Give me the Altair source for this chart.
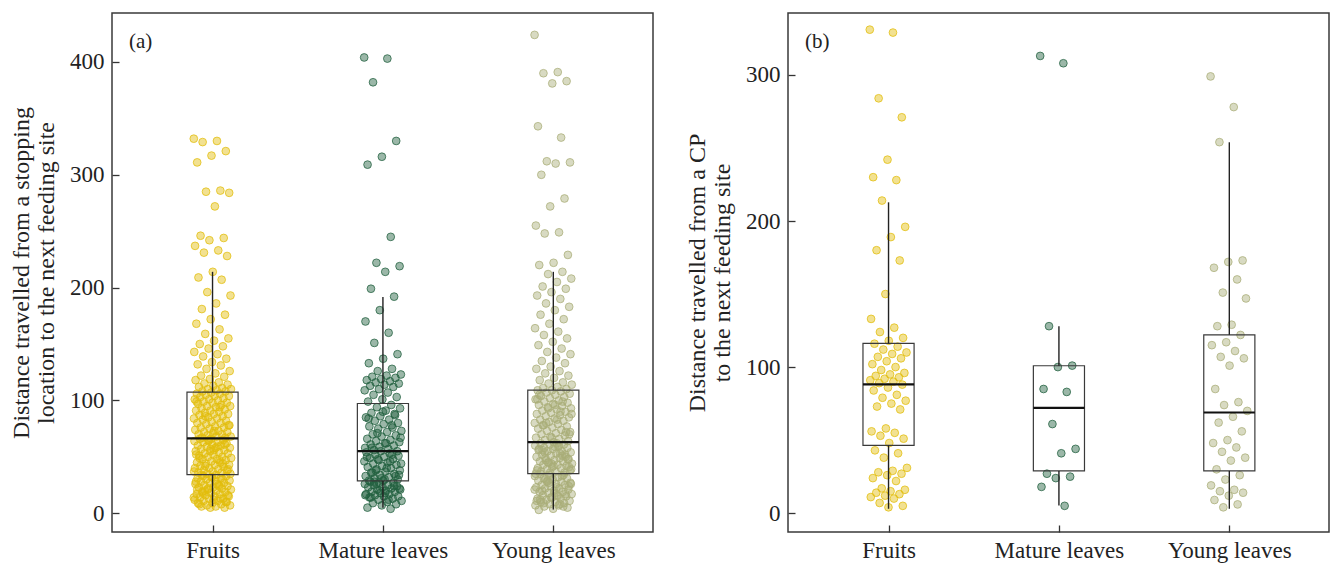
import altair as alt
import pandas as pd

FONT = "Liberation Serif"
CATS = ["Fruits", "Mature leaves", "Young leaves"]
COLORS = ["#e2bd0c", "#22603f", "#a9ae78"]

# ---------------- panel (a): distance from a stopping location ----------------
FRUITS_A = [
    332, 330, 329, 321, 317, 311, 286, 285, 284, 272, 246, 244, 242, 237, 233, 231, 228,
    214, 209, 207, 196, 193, 186, 181, 176, 172, 168, 163, 159, 155, 153, 150, 148, 146,
    143, 141, 139, 137, 134, 132, 131, 128, 126, 124, 122, 121, 119, 118, 116, 115, 114,
    113, 112, 111, 110, 110, 109, 108, 108, 107,
    106, 106, 105, 104, 104, 103, 102, 101, 101, 100, 99, 98, 98, 97, 96, 95, 95, 94, 93,
    92, 91, 91, 90, 89, 88, 88, 87, 86, 85, 84, 84, 83, 82, 81, 80, 80, 79, 78, 77, 76,
    76, 75, 74, 73, 72, 72, 71, 70, 70, 69, 68, 68, 67, 67, 66, 99, 94, 86, 78, 73,
    66, 65, 65, 64, 63, 63, 62, 61, 60, 60, 59, 58, 58, 57, 56, 55, 55, 54, 53, 53, 52,
    51, 50, 50, 49, 48, 48, 47, 46, 45, 45, 44, 43, 43, 42, 41, 40, 40, 39, 38, 38, 37,
    36, 36, 35, 35, 34, 34, 61, 57, 52, 47, 42, 39, 56, 49, 44, 64, 37, 59,
    33, 33, 32, 31, 31, 30, 29, 29, 28, 27, 27, 26, 25, 25, 24, 23, 23, 22, 21, 21, 20,
    19, 19, 18, 17, 17, 16, 15, 15, 14, 13, 13, 12, 11, 11, 10, 9, 9, 8, 7, 7, 6, 6, 5,
    5, 28, 24, 20, 16, 12, 8, 30, 22, 14, 26, 18, 10, 32, 21, 13,
]
MATURE_A = [
    404, 403, 382, 330, 316, 309, 245, 222, 219, 214, 199,
    192, 180, 170, 160, 151, 141, 137, 133, 128, 126, 123, 122, 121, 120, 119, 118, 117,
    116, 115, 114, 113, 112, 110, 109, 107, 105, 103, 101, 99,
    96, 94, 93, 91, 89, 88, 86, 85, 83, 82, 80, 79, 77, 76, 75, 73, 72, 70, 69, 68, 66,
    65, 64, 63, 62, 61, 60, 59, 58, 57, 56, 55, 90, 84, 78, 71, 67, 62, 58, 87,
    55, 54, 53, 52, 51, 50, 49, 48, 47, 46, 45, 44, 43, 42, 41, 40, 39, 38, 37, 36, 35,
    34, 33, 32, 31, 30, 29, 29, 52, 48, 44, 40, 36, 33, 31, 50, 46, 38, 34, 30,
    28, 27, 27, 26, 25, 25, 24, 23, 23, 22, 21, 21, 20, 19, 19, 18, 17, 17, 16, 15, 15,
    14, 13, 12, 11, 10, 9, 8, 7, 5, 4, 26, 22, 18, 14, 24, 20, 16, 12, 28,
]
YOUNG_A = [
    424, 391, 390, 383, 381, 343, 333, 312, 311, 310, 300, 279, 272, 255, 249, 248, 229,
    222, 220,
    214, 212, 208, 205, 201, 199, 196, 193, 190, 186, 183, 180, 176, 172, 168, 164, 161,
    158, 155, 152, 149, 146, 143, 141, 138, 135, 133, 130, 128, 126, 124, 122, 120, 118,
    116, 115, 114, 112, 111, 110, 109,
    109, 108, 107, 106, 105, 104, 103, 102, 101, 100, 99, 98, 97, 96, 95, 94, 93, 92, 91,
    90, 89, 88, 87, 86, 85, 84, 83, 82, 81, 80, 79, 78, 77, 76, 75, 74, 73, 72, 71, 70,
    69, 68, 67, 66, 65, 64, 63, 105, 99, 93, 88, 83, 78, 72, 67, 101, 90, 80, 70, 96,
    62, 61, 61, 60, 59, 58, 58, 57, 56, 55, 55, 54, 53, 52, 52, 51, 50, 49, 49, 48, 47,
    46, 46, 45, 44, 43, 43, 42, 41, 40, 40, 39, 38, 37, 37, 36, 36, 35, 60, 54, 48, 42,
    57, 51, 45, 39, 62, 56, 50, 44, 38, 53, 47, 41, 59, 35,
    34, 34, 33, 32, 31, 31, 30, 29, 28, 28, 27, 26, 25, 25, 24, 23, 22, 22, 21, 20, 19,
    19, 18, 17, 16, 16, 15, 14, 13, 13, 12, 11, 10, 10, 9, 8, 7, 7, 6, 5, 4, 3, 33, 29,
    26, 23, 20, 17, 14, 11, 8, 30, 24, 18, 12, 6, 27, 21, 15, 9,
]
# box statistics (panel a): lower whisker, Q1, median, Q3, upper whisker
LO_A = [6.2, 5.0, 3.3]
Q1_A = [34.3, 28.7, 35.2]
MED_A = [66.3, 55.0, 63.0]
Q3_A = [107.4, 97.3, 109.1]
HI_A = [214.0, 191.7, 214.0]

# ---------------- panel (b): distance from a CP ----------------
FRUITS_B = [
    331, 329, 284, 271, 242, 230, 228, 214, 196, 189, 180, 173, 150, 133, 127, 124, 120,
    118, 116, 114, 112, 110, 109, 107, 106, 104, 102, 100, 98, 96, 95, 94, 93, 92, 91,
    90, 89, 88, 86, 84, 81, 79, 77, 75, 73, 71, 58, 56, 55, 53, 51, 48, 43, 41, 38, 31,
    29, 28, 27, 26, 24, 22, 17, 16, 15, 14, 13, 12, 11, 10, 7, 5, 4,
]
MATURE_B = [313, 308, 128, 101, 100, 85, 83, 61, 44, 41, 27, 25, 24, 18, 5]
YOUNG_B = [
    299, 278, 254, 173, 172, 168, 160, 151, 147, 129, 128, 122, 117, 115, 111, 107, 106,
    101, 85, 76, 74, 70, 66, 62, 56, 50, 48, 45, 42, 38, 36, 30, 26, 23, 19, 16, 15, 14,
    12, 9, 6, 4,
]
LO_B = [3.0, 5.3, 3.0]
Q1_B = [46.4, 28.9, 28.9]
MED_B = [88.1, 72.1, 68.9]
Q3_B = [116.2, 100.9, 122.1]
HI_B = [212.8, 128.0, 253.9]

TITLE_A = ["Distance travelled from a stopping", "location to the next feeding site"]
TITLE_B = ["Distance travelled from a CP", "to the next feeding site"]
YTICKS_A = [0, 100, 200, 300, 400]
YTICKS_B = [0, 100, 200, 300]
YDOM_A = [-16.6, 443.4]
YDOM_B = [-12.9, 342.4]
XDOM = [0.41, 3.585]
TAGS = ["(a)", "(b)"]

LABEL_EXPR = "[" + ",".join("'%s'" % c for c in CATS) + "][datum.value - 1]"


def panel(lists, lo, q1, med, q3, hi, ydom, yticks, ytitle, tag):
    rows = []
    for ci, vals in enumerate(lists):
        for j, v in enumerate(vals):
            rows.append({"cat": CATS[ci], "idx": ci + 1, "dist": v, "i": j})
    pts_df = pd.DataFrame(rows)
    box_df = pd.DataFrame({"cat": CATS, "idx": [1, 2, 3], "lo": lo, "q1": q1,
                           "med": med, "q3": q3, "hi": hi})

    xs = alt.Scale(domain=XDOM, nice=False, zero=False)
    ys = alt.Scale(domain=ydom, nice=False, zero=False)
    xaxis = alt.Axis(values=[1, 2, 3], labelExpr=LABEL_EXPR, grid=False, domain=False,
                     offset=-7, tickSize=7, tickColor="#333333", tickWidth=1.3,
                     labelFont=FONT, labelFontSize=23, labelColor="#222222",
                     labelPadding=7, labelFlush=False, title="")
    yaxis = alt.Axis(values=yticks, grid=False, domain=False, offset=-7, tickSize=7,
                     tickColor="#333333", tickWidth=1.3, labelFont=FONT,
                     labelFontSize=23, labelColor="#222222", labelPadding=8,
                     title=ytitle, titleFont=FONT, titleFontSize=24,
                     titleFontWeight="normal", titleColor="#222222",
                     titleLineHeight=25, titlePadding=11)
    cscale = alt.Scale(domain=CATS, range=COLORS)

    pts = alt.Chart(pts_df).transform_calculate(
        xj="datum.idx + ((datum.i * 0.6180339887) % 1 - 0.5) * 0.22"
    ).mark_circle(size=60, fillOpacity=0.45, strokeOpacity=0.75, strokeWidth=1).encode(
        x=alt.X("xj:Q", scale=xs, axis=xaxis),
        y=alt.Y("dist:Q", scale=ys, axis=yaxis),
        color=alt.Color("cat:N", scale=cscale, legend=None),
        stroke=alt.Stroke("cat:N", scale=cscale, legend=None),
    )
    base = alt.Chart(box_df).transform_calculate(
        xl="datum.idx - 0.15", xr="datum.idx + 0.15"
    )
    box = base.mark_rect(fillOpacity=0, stroke="#3a3a3a", strokeWidth=1.2).encode(
        x=alt.X("xl:Q", scale=xs, axis=xaxis), x2="xr:Q",
        y=alt.Y("q1:Q", scale=ys, axis=yaxis), y2="q3:Q",
    )
    median = base.mark_rule(color="#111111", strokeWidth=2.2).encode(
        x=alt.X("xl:Q", scale=xs, axis=xaxis), x2="xr:Q",
        y=alt.Y("med:Q", scale=ys, axis=yaxis),
    )
    whisk_hi = base.mark_rule(color="#222222", strokeWidth=1.4).encode(
        x=alt.X("idx:Q", scale=xs, axis=xaxis),
        y=alt.Y("q3:Q", scale=ys, axis=yaxis), y2="hi:Q",
    )
    whisk_lo = base.mark_rule(color="#222222", strokeWidth=1.4).encode(
        x=alt.X("idx:Q", scale=xs, axis=xaxis),
        y=alt.Y("lo:Q", scale=ys, axis=yaxis), y2="q1:Q",
    )
    label = alt.Chart(pd.DataFrame({"t": [tag]})).mark_text(
        font=FONT, fontSize=21, align="left", baseline="middle", color="#222222"
    ).encode(text="t:N", x=alt.value(17), y=alt.value(29))

    return alt.layer(pts, box, median, whisk_hi, whisk_lo, label).properties(
        width=541, height=519
    )


pa = panel([FRUITS_A, MATURE_A, YOUNG_A], LO_A, Q1_A, MED_A, Q3_A, HI_A,
           YDOM_A, YTICKS_A, TITLE_A, TAGS[0])
pb = panel([FRUITS_B, MATURE_B, YOUNG_B], LO_B, Q1_B, MED_B, Q3_B, HI_B,
           YDOM_B, YTICKS_B, TITLE_B, TAGS[1])

chart = alt.hconcat(pa, pb, spacing=30).properties(
    padding={"left": 0, "top": 4, "right": 0, "bottom": 0},
    background="white",
).configure_view(stroke="#3a3a3a", strokeWidth=1.5)

chart.save("out.html", embed_options={"renderer": "svg", "actions": False})
